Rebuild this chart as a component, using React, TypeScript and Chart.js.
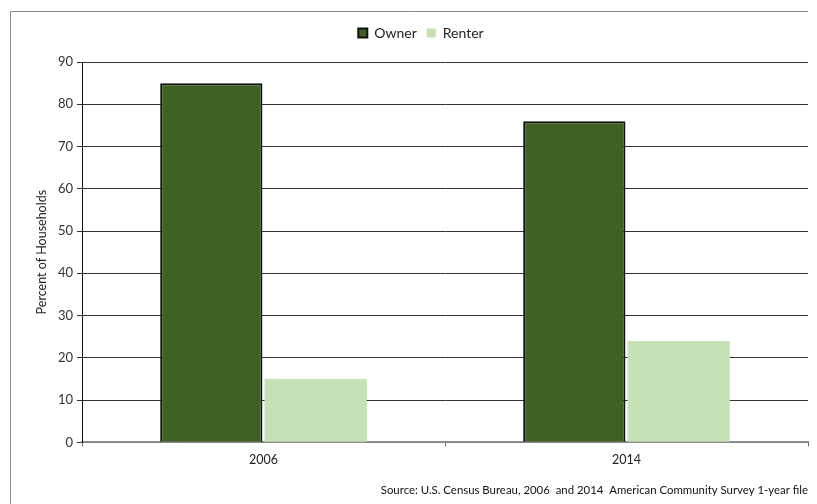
import React, { useEffect, useRef } from "react";
import { Chart, registerables } from "chart.js";

Chart.register(...registerables);

const categories = ["2006", "2014"];
const ownerValues = [85, 76];
const renterValues = [15, 24];
const seriesNames = ["Owner", "Renter"];
const yAxisTitle = "Percent of Households";
const sourceText = "Source: U.S. Census Bureau, 2006  and 2014  American Community Survey 1-year file";

const FONT = "Lato, 'Open Sans', sans-serif";

const framePlugin = {
  id: "frame",
  beforeDraw(chart: any) {
    const ctx = chart.ctx;
    ctx.save();
    ctx.fillStyle = "#ffffff";
    ctx.fillRect(0, 0, chart.width, chart.height);
    ctx.strokeStyle = "#8a8a8a";
    ctx.lineWidth = 1;
    ctx.beginPath();
    ctx.moveTo(10.5, chart.height);
    ctx.lineTo(10.5, 11.5);
    ctx.lineTo(808, 11.5);
    ctx.stroke();
    ctx.restore();
  },
};

export default function App() {
  const ref = useRef<HTMLCanvasElement>(null);
  useEffect(() => {
    if (!ref.current) return;
    const chart = new Chart(ref.current, {
      type: "bar",
      data: {
        labels: categories,
        datasets: [
          {
            label: seriesNames[0],
            data: ownerValues,
            backgroundColor: "#3f6224",
            borderColor: "#111111",
            borderWidth: 2,
            barPercentage: 0.98,
            categoryPercentage: 0.575,
          },
          {
            label: seriesNames[1],
            data: renterValues,
            backgroundColor: "#c6e1b3",
            borderColor: "#c6e1b3",
            borderWidth: 0,
            barPercentage: 0.98,
            categoryPercentage: 0.575,
          },
        ],
      },
      options: {
        responsive: false,
        animation: false,
        devicePixelRatio: 1,
        layout: { padding: { left: 34, right: 9, top: 16, bottom: 4 } },
        plugins: {
          legend: {
            position: "top",
            weight: 3000,
            labels: {
              boxWidth: 9,
              boxHeight: 9,
              color: "#222",
              font: { family: FONT, size: 14 },
              padding: 10,
            },
          } as any,
          title: {
            display: true,
            text: "",
            weight: 500,
            font: { family: FONT, size: 10, lineHeight: 1 },
            padding: { top: 0, bottom: 2 },
          } as any,
          tooltip: { enabled: false },
          subtitle: {
            display: true,
            text: sourceText,
            position: "bottom",
            align: "end",
            color: "#111",
            font: { family: FONT, size: 11.4 },
            padding: { top: 10, bottom: 3 },
          },
        },
        scales: {
          x: {
            grid: {
              drawOnChartArea: false,
              drawTicks: true,
              tickLength: 4,
              color: "#666",
            },
            border: { color: "#8a8a8a", width: 2 },
            ticks: { color: "#222", font: { family: FONT, size: 12.5 }, padding: 6 },
          },
          y: {
            min: 0,
            max: 90,
            afterFit(scale: any) {
              scale.width = 48;
            },
            ticks: {
              stepSize: 10,
              color: "#333",
              font: { family: FONT, size: 13 },
              padding: 4,
            },
            grid: { color: "#333", tickLength: 5, lineWidth: 1 },
            border: { color: "#111", width: 1 },
            title: {
              display: true,
              text: yAxisTitle,
              color: "#222",
              font: { family: FONT, size: 12.5 },
              padding: 0,
            },
          },
        },
      },
      plugins: [framePlugin],
    });
    return () => chart.destroy();
  }, []);
  return (
    <div style={{ position: "fixed", left: 0, top: 0, width: 817, height: 504 }}>
      <canvas ref={ref} width={817} height={504} />
    </div>
  );
}
